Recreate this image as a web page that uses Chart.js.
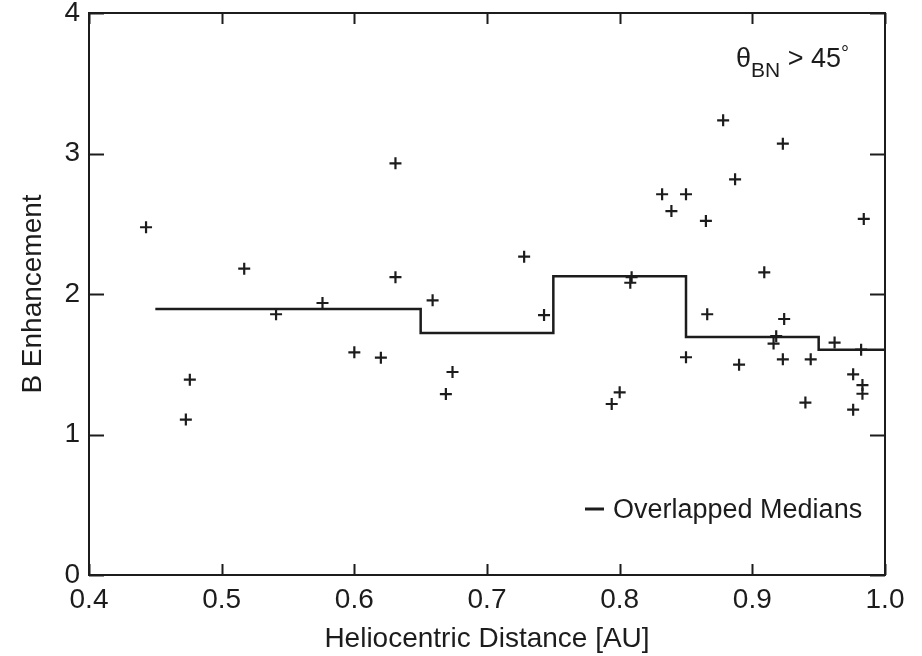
<!DOCTYPE html>
<html>
<head>
<meta charset="utf-8">
<script src="https://cdn.jsdelivr.net/npm/chart.js@4/dist/chart.umd.min.js"></script>
<style>
    html, body { margin: 0; padding: 0; background: #fff; }
    #wrap { width: 922px; height: 656px; }
</style>
</head>
<body>
<div id="wrap"><canvas id="chart" width="922" height="656"></canvas></div>
<script>
// --- Data ---
const distAU = [
    0.443, 0.473, 0.476, 0.517, 0.541, 0.576, 0.600, 0.620, 0.631, 0.631,
    0.659, 0.669, 0.674, 0.728, 0.743, 0.794, 0.800, 0.809, 0.808, 0.832,
    0.839, 0.850, 0.850, 0.865, 0.866, 0.878, 0.887, 0.890, 0.909, 0.916,
    0.918, 0.923, 0.923, 0.924, 0.940, 0.944, 0.962, 0.976, 0.976, 0.982,
    0.983, 0.983, 0.984
];
const bEnhancement = [
    2.475, 1.106, 1.390, 2.180, 1.856, 1.936, 1.585, 1.547, 2.930, 2.120,
    1.955, 1.288, 1.445, 2.266, 1.850, 1.217, 1.300, 2.120, 2.080, 2.710,
    2.590, 2.710, 1.550, 2.520, 1.856, 3.236, 2.816, 1.497, 2.154, 1.647,
    1.700, 3.070, 1.535, 1.822, 1.227, 1.535, 1.654, 1.428, 1.177, 1.604,
    1.352, 1.290, 2.534
];
// step edges of the overlapped medians
const medianX = [0.45, 0.55, 0.65, 0.75, 0.85, 0.95, 1.0];
const medianY = [1.893, 1.893, 1.722, 2.126, 1.694, 1.604, 1.604];

const xTicks = [0.4, 0.5, 0.6, 0.7, 0.8, 0.9, 1.0];
const yTicks = [0, 1, 2, 3, 4];

const FONT = "'Liberation Sans', Arial, Helvetica, sans-serif";
const INK = '#1c1c1c';

// --- Frame with inward ticks + in-plot labels ---
const framePlugin = {
    id: 'frame',
    afterDraw(chart) {
        const { ctx, chartArea: a, scales: { x, y } } = chart;
        ctx.save();
        ctx.strokeStyle = INK;
        ctx.lineWidth = 2;
        ctx.strokeRect(a.left, a.top, a.right - a.left, a.bottom - a.top);

        ctx.beginPath();
        xTicks.forEach(v => {
            const px = Math.round(x.getPixelForValue(v)) + 0.5;
            ctx.moveTo(px, a.bottom); ctx.lineTo(px, a.bottom - 11);
            ctx.moveTo(px, a.top); ctx.lineTo(px, a.top + 11);
        });
        yTicks.forEach(v => {
            const py = Math.round(y.getPixelForValue(v)) + 0.5;
            ctx.moveTo(a.left, py); ctx.lineTo(a.left + 15, py);
            ctx.moveTo(a.right, py); ctx.lineTo(a.right - 15, py);
        });
        ctx.stroke();

        // theta_BN > 45°
        ctx.fillStyle = INK;
        ctx.textBaseline = 'alphabetic';
        ctx.textAlign = 'left';
        let tx = 736;
        ctx.font = `27px ${FONT}`;
        ctx.fillText('θ', tx, 67);
        tx += ctx.measureText('θ').width;
        ctx.font = `21px ${FONT}`;
        ctx.fillText('BN', tx, 77);
        tx += ctx.measureText('BN').width;
        ctx.font = `27px ${FONT}`;
        ctx.fillText(' > 45', tx, 67);
        tx += ctx.measureText(' > 45').width;
        ctx.font = `20px ${FONT}`;
        ctx.fillText('°', tx, 60);

        // legend
        ctx.lineWidth = 3;
        ctx.beginPath();
        ctx.moveTo(585, 509); ctx.lineTo(604, 509);
        ctx.stroke();
        ctx.font = `27px ${FONT}`;
        ctx.fillText(chart.data.datasets[1].label, 613, 518);
        ctx.restore();
    }
};

new Chart(document.getElementById('chart'), {
    data: {
        datasets: [{
            type: 'scatter',
            label: 'Events',
            data: distAU.map((d, i) => ({ x: d, y: bEnhancement[i] })),
            pointStyle: 'cross',
            pointRadius: 6,
            pointBorderWidth: 2.2,
            borderColor: INK,
            backgroundColor: INK,
        }, {
            type: 'line',
            label: 'Overlapped Medians',
            data: medianX.map((d, i) => ({ x: d, y: medianY[i] })),
            stepped: true,
            borderColor: INK,
            borderWidth: 2.5,
            pointRadius: 0,
            fill: false,
        }]
    },
    options: {
        responsive: false,
        animation: false,
        devicePixelRatio: 1,
        layout: { padding: { top: 13, right: 37, left: 0, bottom: 0 } },
        plugins: { legend: { display: false }, tooltip: { enabled: false } },
        scales: {
            x: {
                type: 'linear', min: 0.4, max: 1.0,
                afterBuildTicks: s => { s.ticks = xTicks.map(v => ({ value: v })); },
                afterFit: s => { s.height = 81; s.paddingLeft = 0; s.paddingRight = 0; },
                grid: { display: false, drawTicks: false },
                border: { display: false },
                ticks: { color: INK, padding: 8, font: { size: 28, family: FONT }, callback: v => v.toFixed(1), maxRotation: 0 },
                title: { display: true, text: 'Heliocentric Distance [AU]', color: INK, font: { size: 28, family: FONT }, padding: { top: 0, bottom: 0 } }
            },
            y: {
                type: 'linear', min: 0, max: 4,
                afterBuildTicks: s => { s.ticks = yTicks.map(v => ({ value: v })); },
                afterFit: s => { s.width = 89; s.paddingTop = 0; s.paddingBottom = 0; },
                grid: { display: false, drawTicks: false },
                border: { display: false },
                ticks: { color: INK, padding: 9, font: { size: 28, family: FONT } },
                title: { display: true, text: 'B Enhancement', color: INK, font: { size: 28, family: FONT }, padding: { top: 16, bottom: 0 } }
            }
        }
    },
    plugins: [framePlugin]
});
</script>
</body>
</html>
